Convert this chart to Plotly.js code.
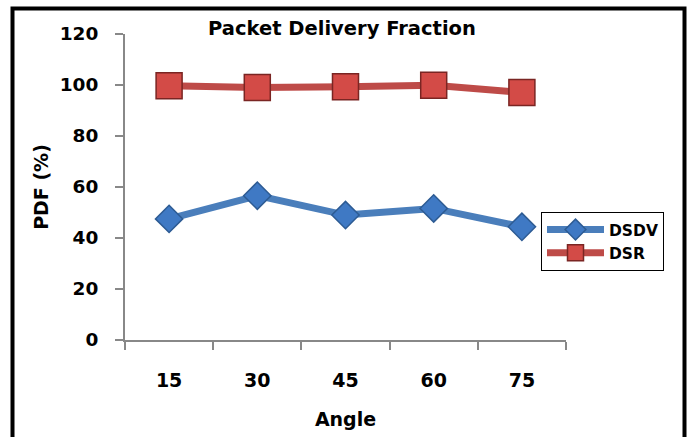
<!DOCTYPE html>
<html>
<head>
<meta charset="utf-8">
<script src="https://cdn.plot.ly/plotly-3.0.1.min.js"></script>
<style>html,body{margin:0;padding:0;background:#fff;}#chart{width:691px;height:437px;}</style>
</head>
<body>
<div id="chart"></div>
<script>
const angles = ["15", "30", "45", "60", "75"];
const dsdv = [47.5, 56.6, 49.0, 51.6, 44.4];
const dsr = [99.7, 99.0, 99.3, 99.9, 97.1];
const yTicks = [0, 20, 40, 60, 80, 100, 120];

const FONT = "'DejaVu Sans', 'Liberation Sans', Arial, sans-serif";

const traces = [
  {
    x: angles, y: dsdv, name: "DSDV", type: "scatter", mode: "lines+markers",
    line: {color: "#4A7EBB", width: 7},
    marker: {symbol: "diamond", size: 21, color: "#3F79C4", line: {color: "#2D5B93", width: 1.5}}
  },
  {
    x: angles, y: dsr, name: "DSR", type: "scatter", mode: "lines+markers",
    line: {color: "#BE4B48", width: 7},
    marker: {symbol: "square", size: 26, color: "#D34B47", line: {color: "#7A2523", width: 1.5}}
  }
];

const layout = {
  width: 691, height: 437,
  margin: {l: 125, r: 125, t: 34, b: 97, autoexpand: false},
  paper_bgcolor: "#ffffff", plot_bgcolor: "#ffffff",
  font: {family: FONT, size: 19, color: "#000", weight: "bold"},
  title: {text: "<b>Packet Delivery Fraction</b>", font: {family: FONT, size: 19.5, color: "#000"},
          x: 0.492, xref: "paper", xanchor: "center", y: 0.936, yref: "container", yanchor: "middle"},
  showlegend: true,
  legend: {x: (541 - 125) / 441, xanchor: "left", y: (340 - 212) / 306, yanchor: "top",
           bordercolor: "#000", borderwidth: 1, bgcolor: "#fff",
           font: {family: FONT, size: 15.5, color: "#000", weight: "bold"},
           itemwidth: 57},
  xaxis: {
    type: "category", categoryorder: "array", categoryarray: angles,
    range: [-0.5, 4.5], autorange: false,
    showline: true, linecolor: "#888", linewidth: 2,
    ticks: "outside", tickson: "boundaries", ticklen: 8, tickcolor: "#888", tickwidth: 2,
    showgrid: false, zeroline: false,
    tickfont: {family: FONT, size: 19, color: "#000", weight: "bold"},
    ticklabelstandoff: 22,
    title: {text: "<b>Angle</b>", font: {family: FONT, size: 19, color: "#000"}, standoff: 23}
  },
  yaxis: {
    range: [0, 120], autorange: false, tickvals: yTicks, ticktext: yTicks.map(String),
    showline: true, linecolor: "#888", linewidth: 2,
    ticks: "outside", ticklen: 8, tickcolor: "#888", tickwidth: 2,
    showgrid: false, zeroline: false,
    tickfont: {family: FONT, size: 18.5, color: "#000", weight: "bold"},
    ticklabelstandoff: 13,
    title: {text: "<b>PDF (%)</b>", font: {family: FONT, size: 19, color: "#000"}, standoff: 6}
  },
  shapes: [
    {type: "rect", xref: "paper", yref: "paper",
     x0: (12.5 - 125) / 441, x1: (684.5 - 125) / 441,
     y0: -0.6, y1: (340 - 8.5) / 306,
     line: {color: "#000", width: 4}, fillcolor: "rgba(0,0,0,0)", layer: "below"}
  ]
};

Plotly.newPlot("chart", traces, layout, {displayModeBar: false, staticPlot: true});
</script>
</body>
</html>
